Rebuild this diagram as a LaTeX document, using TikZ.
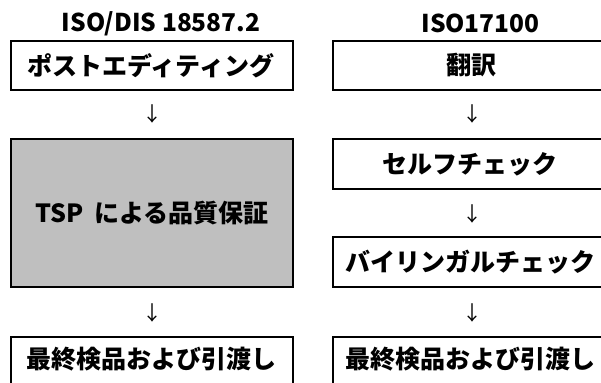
\documentclass[tikz,border=0pt]{standalone}
\usepackage{fontspec}
\setmainfont{Noto Sans CJK JP}
\newfontfamily\arrowfont{Noto Sans CJK JP}
\definecolor{boxgray}{RGB}{191,191,191}
\begin{document}
\begin{tikzpicture}[x=1pt,y=-1pt,
  box/.style={draw=black,line width=2.8pt},
  boxtext/.style={font=\fontsize{25}{29}\selectfont\bfseries,inner sep=0pt},
  headtext/.style={font=\fontsize{24.5}{28}\selectfont\bfseries,inner sep=0pt},
  arrowtext/.style={font=\arrowfont\fontsize{20}{24}\selectfont,inner sep=0pt}]
\useasboundingbox (0,0) rectangle (601,382);
\clip (0,0) rectangle (601,382);
% headers
\node[headtext] (hl) at (161,23.5) {ISO/DIS 18587.2};
\node[headtext] (hr) at (480.5,23.5) {ISO17100};
% left column boxes
\draw[box] (11,41) rectangle (293,90);
\node[boxtext] (l1) at (151,65.5) {ポストエディティング};
\draw[box,fill=boxgray] (11,139) rectangle (293,287);
\node[boxtext] (l2) at (152,213) {TSP\hspace{0.45em}による品質保証};
\draw[box] (11,337) rectangle (293,392);
\node[boxtext] (l3) at (151,359.5) {最終検品および引渡し};
% right column boxes
\draw[box] (333,41) rectangle (615,90);
\node[boxtext] (r1) at (471,65.5) {翻訳};
\draw[box] (333,139) rectangle (615,189);
\node[boxtext] (r2) at (470,164) {セルフチェック};
\draw[box] (333,237) rectangle (615,287);
\node[boxtext] (r3) at (470,262) {バイリンガルチェック};
\draw[box] (333,337) rectangle (615,392);
\node[boxtext] (r4) at (470,359.5) {最終検品および引渡し};
% arrows
\node[arrowtext] (al1) at (152,114) {↓};
\node[arrowtext] (al2) at (152,312.5) {↓};
\node[arrowtext] (ar1) at (472,114) {↓};
\node[arrowtext] (ar2) at (472,214) {↓};
\node[arrowtext] (ar3) at (472,312.5) {↓};
\end{tikzpicture}
\end{document}
